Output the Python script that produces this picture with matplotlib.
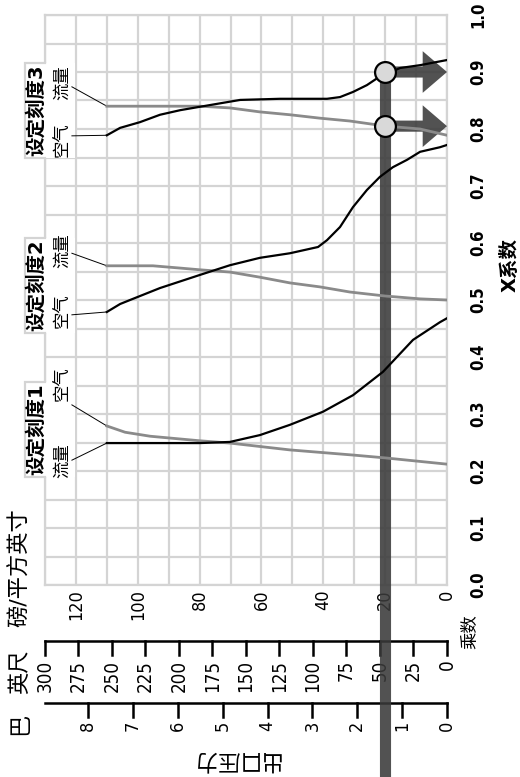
import matplotlib
matplotlib.use("Agg")
import matplotlib.pyplot as plt
from matplotlib.patches import Rectangle

plt.rcParams["font.family"] = ["DejaVu Sans", "Noto Sans CJK SC"]
NUM = dict(fontstretch="condensed", family="DejaVu Sans")

# Curves: outlet pressure (psi) vs X coefficient
s1_flow_psi = [110, 79.9, 70.2, 60.5, 50.8, 40.1, 30.4, 20.7, 11.0, 2.3, 0]
s1_flow_x = [0.249, 0.249, 0.251, 0.263, 0.281, 0.304, 0.333, 0.374, 0.430, 0.461, 0.468]
s1_air_psi = [110, 104.1, 96.0, 79.9, 70.2, 50.8, 30.4, 20.0, 0]
s1_air_x = [0.279, 0.268, 0.261, 0.253, 0.249, 0.237, 0.228, 0.223, 0.212]

s2_flow_psi = [110, 95.1, 86.3, 79.9, 70.2, 60.5, 50.8, 41.1, 31.4, 20.0, 8.7, 0]
s2_flow_x = [0.560, 0.560, 0.556, 0.553, 0.549, 0.540, 0.530, 0.523, 0.514, 0.507, 0.502, 0.500]
s2_air_psi = [110, 105.7, 102.5, 92.8, 79.9, 70.2, 60.5, 50.8, 41.7, 38.8, 34.6, 30.4,
              25.9, 21.7, 17.5, 12.9, 8.7, 2.3, 0]
s2_air_x = [0.479, 0.493, 0.500, 0.521, 0.544, 0.561, 0.574, 0.582, 0.593, 0.605, 0.628, 0.663,
            0.693, 0.716, 0.733, 0.746, 0.760, 0.768, 0.772]

s3_flow_psi = [110, 84.7, 79.9, 70.2, 60.5, 50.8, 41.1, 31.4, 19.7, 8.7, 0]
s3_flow_x = [0.840, 0.840, 0.840, 0.837, 0.830, 0.825, 0.819, 0.814, 0.805, 0.800, 0.789]
s3_air_psi = [110, 105.7, 99.3, 92.8, 86.3, 79.9, 66.9, 54.0, 38.8, 34.6, 30.4, 25.9,
              22.6, 19.7, 15.2, 8.7, 0]
s3_air_x = [0.789, 0.802, 0.812, 0.825, 0.833, 0.839, 0.851, 0.853, 0.853, 0.856, 0.865, 0.877,
            0.889, 0.896, 0.907, 0.912, 0.921]

# operating point
op_psi = 20
op_x = [0.9, 0.805]

psi_ticks = [0, 20, 40, 60, 80, 100, 120]
x_ticks = [0.0, 0.1, 0.2, 0.3, 0.4, 0.5, 0.6, 0.7, 0.8, 0.9, 1.0]
ft_ticks = [0, 25, 50, 75, 100, 125, 150, 175, 200, 225, 250, 275, 300]
bar_ticks = [1, 2, 3, 4, 5, 6, 7, 8]
PSI_PER_FT = 0.433527
PSI_PER_BAR = 14.5038

GRID = "#d4d4d4"
BAND = "#3a3a3a"

fig = plt.figure(figsize=(5.2, 7.77), dpi=100)
ax = fig.add_axes([45 / 520, 1 - 585 / 777, 402 / 520, 570 / 777])
ax.set_xlim(130, 0)
ax.set_ylim(0, 1)

# Grid
ax.set_xticks(psi_ticks)
ax.set_xticks(range(0, 131, 10), minor=True)
ax.set_yticks(x_ticks)
ax.set_yticks([i * 0.05 for i in range(21)], minor=True)
ax.grid(True, which="both", color=GRID, lw=1.6)
ax.set_axisbelow(True)
for s in ax.spines.values():
    s.set_color(GRID)
    s.set_linewidth(1.6)
ax.tick_params(which="both", length=0)
ax.set_xticklabels([str(t) for t in psi_ticks], rotation=90, fontsize=13, **NUM)
ax.tick_params(axis="x", pad=3)
ax.yaxis.tick_right()
ax.set_yticklabels([f"{t:.1f}" for t in x_ticks], rotation=90, fontsize=12,
                   fontweight="bold", va="center", **NUM)
ax.tick_params(axis="y", pad=16)

# Curves
gray = "#8a8a8a"
ax.plot(s1_air_psi, s1_air_x, color=gray, lw=2, zorder=5)
ax.plot(s1_flow_psi, s1_flow_x, color="black", lw=1.6, zorder=5)
ax.plot(s2_flow_psi, s2_flow_x, color=gray, lw=2, zorder=5)
ax.plot(s2_air_psi, s2_air_x, color="black", lw=1.6, zorder=5)
ax.plot(s3_flow_psi, s3_flow_x, color=gray, lw=2, zorder=5)
ax.plot(s3_air_psi, s3_air_x, color="black", lw=1.6, zorder=5)

# Setting tabs with labels
tabs = [
    ("设定刻度1", 0.356, 0.189, [("空气", 0.354, 0.316, 0.279), ("流量", 0.219, 0.219, 0.249)]),
    ("设定刻度2", 0.609, 0.442, [("流量", 0.586, 0.582, 0.560), ("空气", 0.482, 0.474, 0.479)]),
    ("设定刻度3", 0.916, 0.749, [("流量", 0.882, 0.874, 0.840), ("空气", 0.782, 0.788, 0.789)]),
]
for title, top, bot, labels in tabs:
    ax.add_patch(Rectangle((120.4, bot), 16.1, top - bot, facecolor="white",
                           edgecolor="none", clip_on=False, zorder=3))
    ax.plot([130, 136.5, 136.5, 130], [top, top, bot, bot], color=GRID, lw=1.6,
            clip_on=False, zorder=3.1, solid_joinstyle="miter")
    ax.text(132.9, (top + bot) / 2, title, rotation=90, ha="center", va="center",
            fontsize=14, fontweight="semibold", zorder=4)
    for name, ly, y0, y1 in labels:
        ax.text(124.5, ly, name, rotation=90, ha="center", va="center",
                fontsize=12.5, zorder=4)
        ax.plot([121.3, 110], [y0, y1], color="black", lw=0.7, clip_on=False, zorder=4)

# Operating point band and arrows
ax.plot([op_psi, op_psi], [op_x[0], -0.34], color=BAND, lw=8, alpha=0.88,
        clip_on=False, zorder=4, solid_capstyle="butt")
for y in op_x:
    ax.annotate("", xy=(0, y), xytext=(op_psi, y), zorder=4.5,
                arrowprops=dict(arrowstyle="simple,head_length=1.75,head_width=3.0,tail_width=0.8",
                                mutation_scale=10, fc=BAND, ec="none", alpha=0.88,
                                shrinkA=0, shrinkB=0))
ax.plot([op_psi] * len(op_x), op_x, "o", ms=15, mfc="#d9d9d9", mec="black", mew=1.6,
        zorder=7, clip_on=False)

# Feet scale
y_ft = -0.098
ax.plot([0, 130], [y_ft, y_ft], color="black", lw=1.8, clip_on=False, zorder=3,
        solid_capstyle="projecting")
for f in ft_ticks:
    p = f * PSI_PER_FT
    ax.plot([p, p], [y_ft, y_ft - 0.025], color="black", lw=1.8, clip_on=False, zorder=3)
    ax.text(p, y_ft - 0.033, str(f), rotation=90, ha="center", va="top", fontsize=13.5, **NUM)

# Bar scale
y_bar = -0.207
ax.plot([0, 130], [y_bar, y_bar], color="black", lw=1.8, clip_on=False, zorder=3,
        solid_capstyle="projecting")
for b in [0] + bar_ticks:
    p = b * PSI_PER_BAR
    ax.plot([p, p], [y_bar, y_bar - 0.025], color="black", lw=1.8, clip_on=False, zorder=3)
    ax.text(p, y_bar - 0.031, str(b), rotation=90, ha="center", va="top", fontsize=13, **NUM)

# Axis titles and unit labels
ax.text(-20.4, 0.561, "X系数", rotation=90, ha="center", va="center", fontsize=14,
        fontweight="bold")
ax.text(-7.4, -0.082, "乘数", rotation=90, ha="center", va="center", fontsize=12.5)
ax.text(138.1, 0.030, "磅/平方英寸", rotation=90, ha="center", va="center", fontsize=16)
ax.text(138.1, -0.153, "英尺", rotation=90, ha="center", va="center", fontsize=16)
ax.text(138.1, -0.244, "巴", rotation=90, ha="center", va="center", fontsize=16)
ax.text(68.6, -0.307, "出口压力", rotation=180, ha="center", va="center", fontsize=16)

fig.savefig("out.png", dpi=100)
